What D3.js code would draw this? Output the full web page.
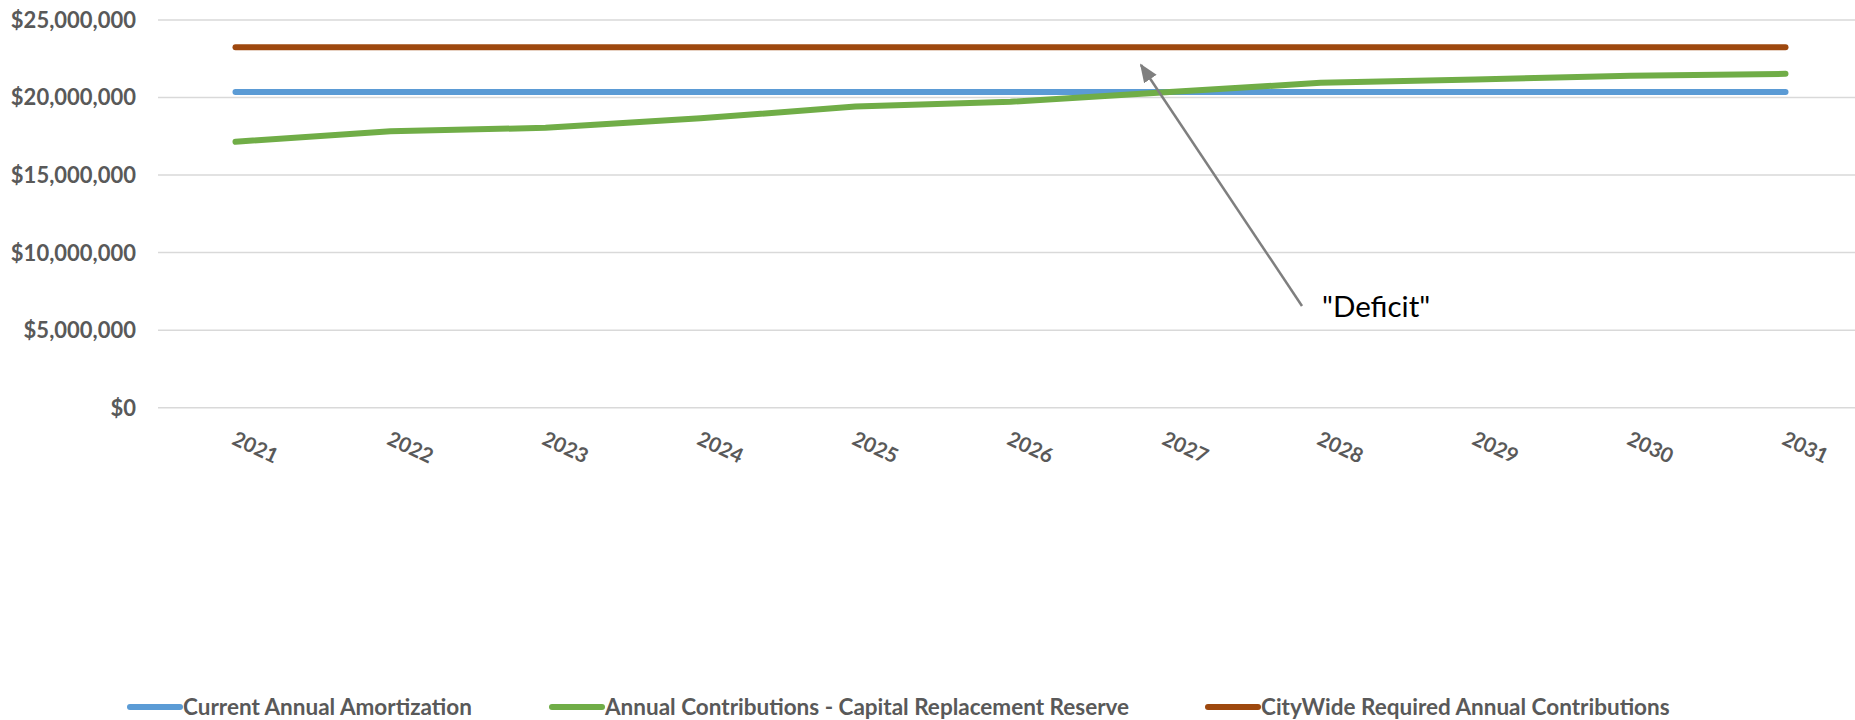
<!DOCTYPE html>
<html>
<head>
<meta charset="utf-8">
<script src="https://cdn.jsdelivr.net/npm/d3@7"></script>
<style>
  html, body { margin: 0; padding: 0; background: #fff; }
  svg { display: block; }
</style>
</head>
<body>
<svg id="chart" width="1855" height="720"></svg>
<script>
// Ten-year funding outlook (2021–2031)
const years = ["2021","2022","2023","2024","2025","2026","2027","2028","2029","2030","2031"];
const amortization = [20360000,20360000,20360000,20360000,20360000,20360000,20360000,20360000,20360000,20360000,20360000];
const reserveContributions = [17150000,17820000,18050000,18660000,19420000,19730000,20340000,20950000,21170000,21400000,21530000];
const requiredContributions = [23240000,23240000,23240000,23240000,23240000,23240000,23240000,23240000,23240000,23240000,23240000];
const yTicks = [0, 5000000, 10000000, 15000000, 20000000, 25000000];

const seriesNames = ["Current Annual Amortization", "Annual Contributions - Capital Replacement Reserve", "CityWide Required Annual Contributions"];
const seriesColors = ["#5B9BD5", "#70AD47", "#9E480E"];
const seriesValues = [amortization, reserveContributions, requiredContributions];

const W = 1855, H = 720;
const svg = d3.select("#chart");
const font = "Lato, 'Open Sans', sans-serif";
const textGray = "#595959";

const x = d3.scalePoint().domain(years).range([158, 1863]).padding(0.5);
const y = d3.scaleLinear().domain([0, 25000000]).range([407.7, 20]);

// horizontal gridlines
svg.append("g")
  .selectAll("line")
  .data(yTicks)
  .join("line")
  .attr("x1", 158).attr("x2", W)
  .attr("y1", d => y(d)).attr("y2", d => y(d))
  .attr("stroke", "#D9D9D9").attr("stroke-width", 1.5);

// y axis labels
const fmt = d3.format("$,.0f");
svg.append("g")
  .selectAll("text")
  .data(yTicks)
  .join("text")
  .attr("x", 136).attr("y", d => y(d))
  .attr("dy", "0.36em")
  .attr("text-anchor", "end")
  .attr("font-family", font).attr("font-weight", "bold").attr("font-size", 22)
  .attr("fill", textGray)
  .text(d => fmt(d));

// x axis labels, rotated
svg.append("g")
  .selectAll("text")
  .data(years)
  .join("text")
  .attr("transform", d => `translate(${x(d) + 20},${447}) rotate(25)`)
  .attr("text-anchor", "middle")
  .attr("dy", "0.36em")
  .attr("font-family", font).attr("font-weight", "bold").attr("font-size", 20.5)
  .attr("fill", textGray)
  .text(d => d);

// series lines
const line = d3.line()
  .x((d, i) => x(years[i]))
  .y(d => y(d));

svg.append("g")
  .selectAll("path")
  .data(seriesValues)
  .join("path")
  .attr("d", d => line(d))
  .attr("fill", "none")
  .attr("stroke", (d, i) => seriesColors[i])
  .attr("stroke-width", 6)
  .attr("stroke-linecap", "round")
  .attr("stroke-linejoin", "round");

// annotation arrow
const defs = svg.append("defs");
defs.append("marker")
  .attr("id", "arrowHead")
  .attr("viewBox", "0 0 10 10")
  .attr("refX", 9).attr("refY", 5)
  .attr("markerWidth", 7.5).attr("markerHeight", 7.5)
  .attr("markerUnits", "strokeWidth")
  .attr("orient", "auto")
  .append("path")
  .attr("d", "M0,1 L10,5 L0,9 Z")
  .attr("fill", "#7F7F7F");

svg.append("line")
  .attr("x1", 1302).attr("y1", 306)
  .attr("x2", 1141).attr("y2", 65)
  .attr("stroke", "#7F7F7F").attr("stroke-width", 2.5)
  .attr("marker-end", "url(#arrowHead)");

svg.append("text")
  .attr("x", 1322).attr("y", 317)
  .attr("font-family", font).attr("font-size", 29.5)
  .attr("fill", "#000")
  .text("\"Deficit\"");

// legend
const legendX = [128, 550, 1206];
const legendY = 707;
const legend = svg.append("g")
  .selectAll("g")
  .data(seriesNames)
  .join("g")
  .attr("transform", (d, i) => `translate(${legendX[i]},${legendY})`);

legend.append("line")
  .attr("x1", 2).attr("x2", 52)
  .attr("stroke", (d, i) => seriesColors[i])
  .attr("stroke-width", 6)
  .attr("stroke-linecap", "round");

legend.append("text")
  .attr("x", 55)
  .attr("dy", "0.36em")
  .attr("font-family", font).attr("font-weight", "bold").attr("font-size", 22.5)
  .attr("fill", textGray)
  .text(d => d);
</script>
</body>
</html>
